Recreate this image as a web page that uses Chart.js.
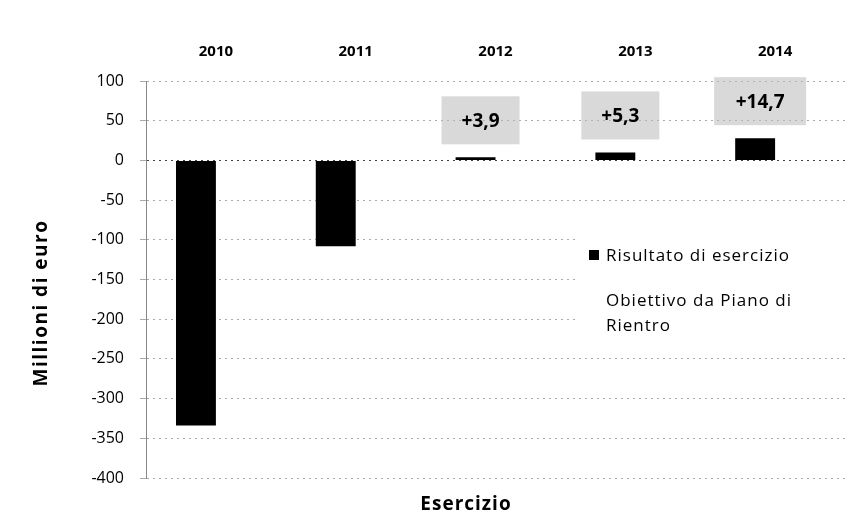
<!DOCTYPE html>
<html>
<head>
<meta charset="utf-8">
<script src="https://cdn.jsdelivr.net/npm/chart.js@4"></script>
<style>
  html, body { margin: 0; padding: 0; background: #fff; }
  #wrap { width: 859px; height: 524px; }
</style>
</head>
<body>
<div id="wrap"><canvas id="myChart"></canvas></div>
<script>
// Data
var years = ["2010", "2011", "2012", "2013", "2014"];
var risultato = [-334, -108, 3.9, 10, 28];
var obiettivo = [null, null, null, null, null];
var scarto = [null, null, "+3,9", "+5,3", "+14,7"];
var yTicks = [100, 50, 0, -50, -100, -150, -200, -250, -300, -350, -400];

var FONT = "'Open Sans', 'DejaVu Sans', sans-serif";

// gray boxes with the gap above the bars
var gapBoxes = {
  id: 'gapBoxes',
  afterDatasetsDraw: function(chart) {
    var ctx = chart.ctx;
    var meta = chart.getDatasetMeta(0);
    ctx.save();
    scarto.forEach(function(txt, i) {
      if (!txt) return;
      var bar = meta.data[i];
      var cx = bar.x + 5, cy = bar.y - 37;
      var w = txt.length > 4 ? 92 : 78, h = 48;
      ctx.fillStyle = 'rgba(185,185,185,0.55)';
      ctx.fillRect(cx - w / 2, cy - h / 2, w, h);
      ctx.fillStyle = '#000';
      ctx.font = 'bold 19px ' + FONT;
      ctx.textAlign = 'center';
      ctx.textBaseline = 'middle';
      ctx.fillText(txt, cx, cy + 1);
    });
    ctx.restore();
  }
};

// legend and axis titles
var sideText = {
  id: 'sideText',
  afterDraw: function(chart) {
    var ctx = chart.ctx;
    ctx.save();
    ctx.fillStyle = '#fff';
    ctx.fillRect(578, 236, 267, 104);
    ctx.fillStyle = '#000';
    ctx.fillRect(589, 250, 10, 10);
    ctx.font = '17px ' + FONT;
    ctx.letterSpacing = '1px';
    ctx.textBaseline = 'middle';
    ctx.textAlign = 'left';
    ctx.fillText(chart.data.datasets[0].label, 606, 256);
    ctx.fillText('Obiettivo da Piano di', 606, 301);
    ctx.fillText('Rientro', 606, 326);

    ctx.font = 'bold 19px ' + FONT;
    ctx.textAlign = 'center';
    ctx.fillText('Esercizio', 466, 505);

    ctx.translate(42, 303);
    ctx.rotate(-Math.PI / 2);
    ctx.font = 'bold 19px ' + FONT;
    ctx.letterSpacing = '1.5px';
    ctx.fillText('Millioni di euro', 0, 0);
    ctx.restore();
  }
};

new Chart(document.getElementById('myChart'), {
  type: 'bar',
  data: {
    labels: years,
    datasets: [
      { label: 'Risultato di esercizio', data: risultato, backgroundColor: '#000' },
      { label: 'Obiettivo da Piano di Rientro', data: obiettivo, backgroundColor: 'rgba(0,0,0,0)' }
    ]
  },
  options: {
    responsive: true,
    maintainAspectRatio: false,
    animation: false,
    layout: { padding: { left: 0, right: 14, top: 0, bottom: 46 } },
    datasets: { bar: { categoryPercentage: 0.571, barPercentage: 1 } },
    plugins: { legend: { display: false }, tooltip: { enabled: false } },
    scales: {
      x: {
        position: 'top',
        grid: { display: false },
        border: { display: false },
        ticks: { color: '#000', font: { family: FONT, size: 15, weight: 'bold' }, padding: 12 },
        afterFit: function(s) { s.height = 81; }
      },
      y: {
        min: -400,
        max: 100,
        afterBuildTicks: function(s) { s.ticks = yTicks.map(function(v) { return { value: v }; }); },
        grid: {
          color: function(c) { return c.tick && c.tick.value === 0 ? '#444' : '#aaa'; },
          tickLength: 6,
          tickColor: '#aaa'
        },
        border: { display: true, color: '#888', dash: [2, 4] },
        ticks: { color: '#000', font: { family: FONT, size: 16 }, padding: 16 },
        afterFit: function(s) { s.width = 146; }
      }
    }
  },
  plugins: [gapBoxes, sideText]
});
</script>
</body>
</html>
